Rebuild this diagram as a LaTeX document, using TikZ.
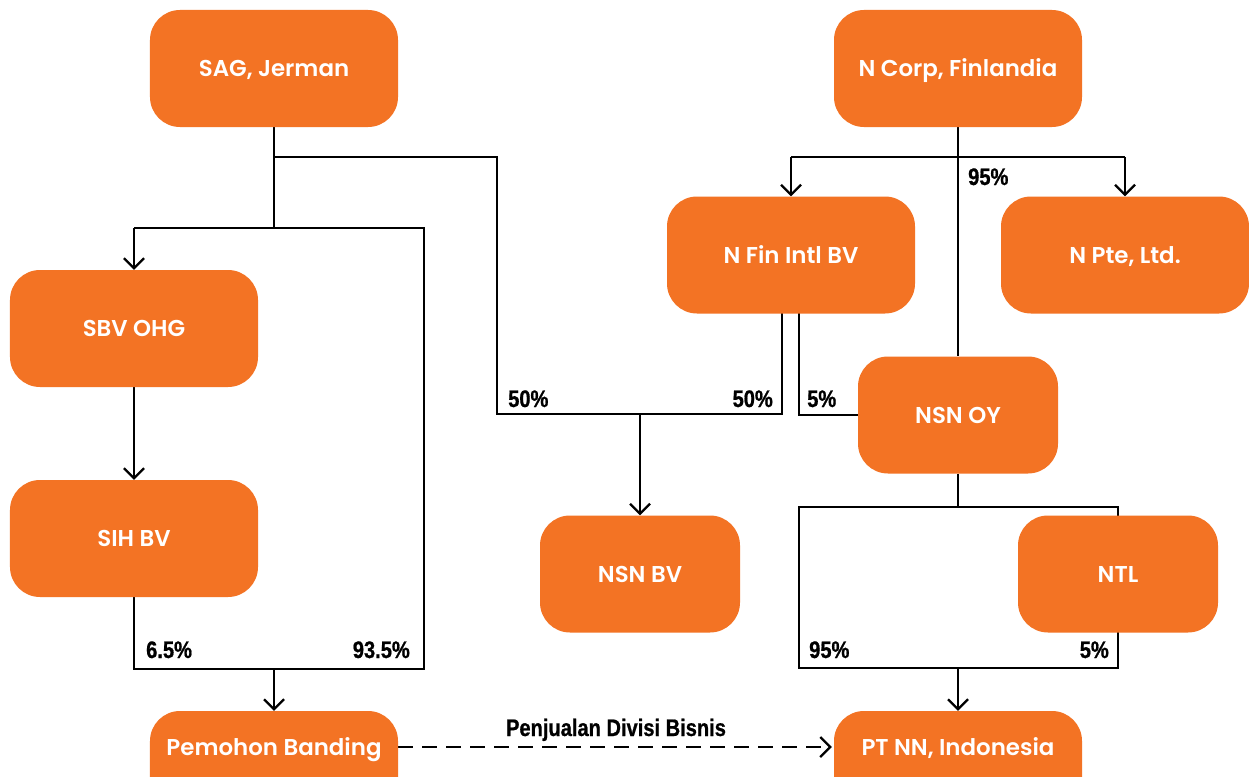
\documentclass[tikz,border=0pt]{standalone}
\usepackage{fontspec}
\usetikzlibrary{arrows.meta,backgrounds}
\newfontfamily\boxfont{Poppins SemiBold}
\newfontfamily\pctfont[FakeStretch=0.84,FakeBold=0.8]{Liberation Sans Bold}
\definecolor{entity}{HTML}{F37324}

\begin{document}
\begin{tikzpicture}[x=1bp,y=-1bp,
  entitybox/.style={fill=entity, rounded corners=30bp, minimum height=117bp, inner sep=0pt},
  wide/.style={minimum width=248bp},
  narrow/.style={minimum width=200bp},
  boxtext/.style={text=white, font=\boxfont\fontsize{23}{26}\selectfont, inner sep=0pt, text height=16bp, text depth=0pt},
  link/.style={line width=2.2bp, black, line join=miter},
  tip/.style={-{Straight Barb[length=10bp,width=20bp]}},
  pct/.style={font=\pctfont\fontsize{24}{26}\selectfont, inner sep=0pt}]

\useasboundingbox (0,0) rectangle (1249,777);
\clip (0,0) rectangle (1249,777);

% companies
\node[entitybox,wide,boxtext] (sag) at (274,68.5) {SAG, Jerman};
\node[entitybox,wide,boxtext] (ncorp) at (958,68.5) {N Corp, Finlandia};
\node[entitybox,wide,boxtext] (nfin) at (791,255) {N Fin Intl BV};
\node[entitybox,wide,boxtext] (npte) at (1125,255) {N Pte, Ltd.};
\node[entitybox,wide,boxtext] (sbv) at (134,328.5) {SBV OHG};
\node[entitybox,narrow,boxtext] (nsnoy) at (958,415) {NSN OY};
\node[entitybox,wide,boxtext] (sih) at (134,538.5) {SIH BV};
\node[entitybox,narrow,boxtext] (nsnbv) at (640,574) {NSN BV};
\node[entitybox,narrow,boxtext] (ntl) at (1118,574) {NTL};
\node[entitybox,wide] (pb) at (274,769.5) {};
\node[boxtext] (pbl) at (274,747) {Pemohon Banding};
\node[entitybox,wide] (ptnn) at (958,769.5) {};
\node[boxtext] (ptnnl) at (958,747) {PT NN, Indonesia};

% junction points
\coordinate (sagA) at (274,157);
\coordinate (sagB) at (274,228);
\coordinate (sagBL) at (134,228);
\coordinate (sagBR) at (424,228);
\coordinate (sihJ) at (134,669);
\coordinate (rightJ) at (424,669);
\coordinate (pbJ) at (274,669);
\coordinate (nsnA) at (497,157);
\coordinate (nsnB) at (497,414);
\coordinate (nsnC) at (782,414);
\coordinate (nsnD) at (640,414);
\coordinate (finL) at (782,313);
\coordinate (finR) at (799,313);
\coordinate (ncL) at (791,157);
\coordinate (ncR) at (1125,157);
\coordinate (oyJ) at (958,507);
\coordinate (ptTL) at (799,507);
\coordinate (ptBR) at (1118,668);
\coordinate (ptJ) at (958,668);

\begin{scope}[on background layer]
  \fill[white] (0,0) rectangle (1249,777);
  % SAG group
  \draw[link] (sag.south) -- (sagB);
  \draw[link] (sih.south) -- (sihJ) -- (rightJ) -- (sagBR) -- (sagBL);
  \draw[link,tip] (sagBL) -- (sbv.north);
  \draw[link,tip] (sbv.south) -- (sih.north);
  \draw[link,tip] (pbJ) -- (pb.north);
  % joint venture NSN BV
  \draw[link] (sagA) -- (nsnA) -- (nsnB) -- (nsnC) -- (finL);
  \draw[link,tip] (nsnD) -- (nsnbv.north);
  % N Corp group
  \draw[link] (ncorp.south) -- (nsnoy.north);
  \draw[link,tip] (ncL) -- (nfin.north);
  \draw[link,tip] (ncR) -- (npte.north);
  \draw[link] (ncL) -- (ncR);
  \draw[link] (finR) |- (nsnoy.west);
  % PT NN ownership
  \draw[link] (nsnoy.south) -- (oyJ);
  \draw[link] (ptTL) rectangle (ptBR);
  \draw[link,tip] (ptJ) -- (ptnn.north);
  % business sale
  \draw[link,dash pattern=on 15bp off 9bp,tip] (pb.east |- pbl.center) -- ([xshift=-2bp]ptnn.west |- ptnnl.center);
\end{scope}

% shareholdings
\node[pct,anchor=base west] (p50a) at (508,407) {50\%};
\node[pct,anchor=base east] (p50b) at (773,407) {50\%};
\node[pct,anchor=base west] (p5a) at (807,407) {5\%};
\node[pct,anchor=base west] (p95a) at (968,185) {95\%};
\node[pct,anchor=base west] (p65) at (146,658) {6.5\%};
\node[pct,anchor=base east] (p935) at (410,658) {93.5\%};
\node[pct,anchor=base west] (p95b) at (809,658) {95\%};
\node[pct,anchor=base east] (p5b) at (1109,658) {5\%};
\node[pct,anchor=base] (sale) at (616,736) {Penjualan Divisi Bisnis};
\end{tikzpicture}
\end{document}
